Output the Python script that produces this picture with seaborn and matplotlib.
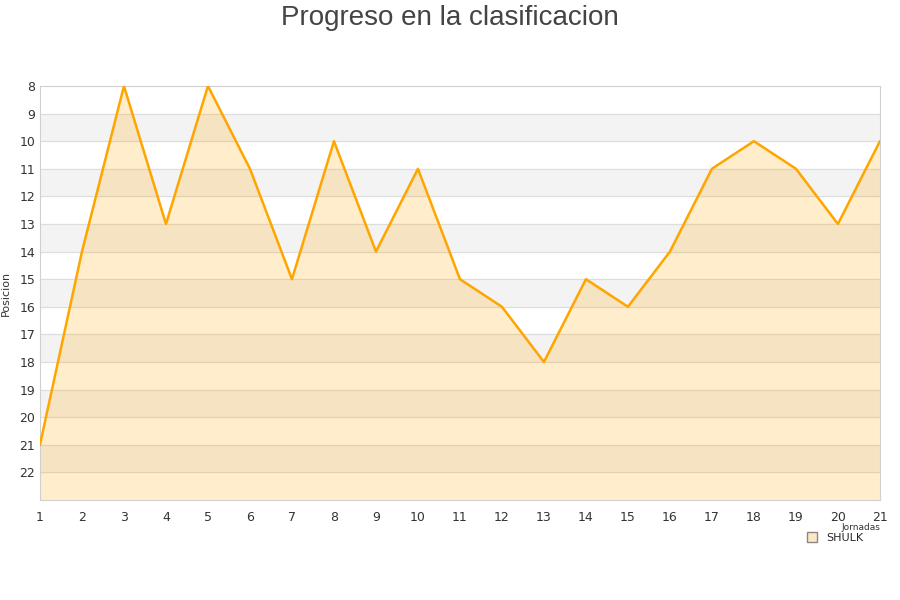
import matplotlib.pyplot as plt
import seaborn as sns
import numpy as np
import pandas as pd

jornadas = list(range(1, 22))
posiciones = [21, 14, 8, 13, 8, 11, 15, 10, 14, 11, 15, 16, 18, 15, 16, 14, 11, 10, 11, 13, 10]
equipo = 'SHULK'

df = pd.DataFrame({'Jornada': jornadas, 'Posicion': posiciones})

sns.set_style('white')
fig = plt.figure(figsize=(9, 6), dpi=100)
ax = fig.add_axes([0.0444, 0.1667, 0.9333, 0.69])

# bandas alternas del fondo
for y in range(9, 23, 2):
    ax.axhspan(y, y + 1, color='#f3f3f3', zorder=0)
for y in range(9, 23):
    ax.axhline(y, color='#dddddd', lw=0.8, zorder=1)

ax.fill_between(df['Jornada'], df['Posicion'], 23, color='#ffa500', alpha=0.2, lw=0, zorder=2)
sns.lineplot(data=df, x='Jornada', y='Posicion', color='#ffa500', lw=1.8, ax=ax, zorder=3)

ax.set_xlim(1, 21)
ax.set_ylim(23, 8)
ax.set_xticks(jornadas)
ax.set_yticks(range(8, 23))
ax.tick_params(axis='both', labelsize=9, colors='#333333', length=0)
ax.tick_params(axis='x', pad=8)
for s in ax.spines.values():
    s.set_color('#d0d0d0')
ax.set_xlabel('')
ax.set_ylabel('Posicion', fontsize=8, color='#333333', labelpad=6)
fig.text(0.5, 0.992, 'Progreso en la clasificacion', ha='center', va='top', fontsize=20,
         color='#444444', family='Liberation Sans')

fig.text(0.978, 0.12, 'Jornadas', ha='right', va='center', fontsize=6.5, color='#333333')
h = plt.Line2D([], [], marker='s', ls='', markersize=7, markerfacecolor='#fde8c4', markeredgecolor='#888888')
leg = fig.legend([h], [equipo], loc='center', bbox_to_anchor=(0.928, 0.104), frameon=False,
                 fontsize=8, handletextpad=0.8, borderpad=0.2, handlelength=1)

fig.savefig('out.png')
